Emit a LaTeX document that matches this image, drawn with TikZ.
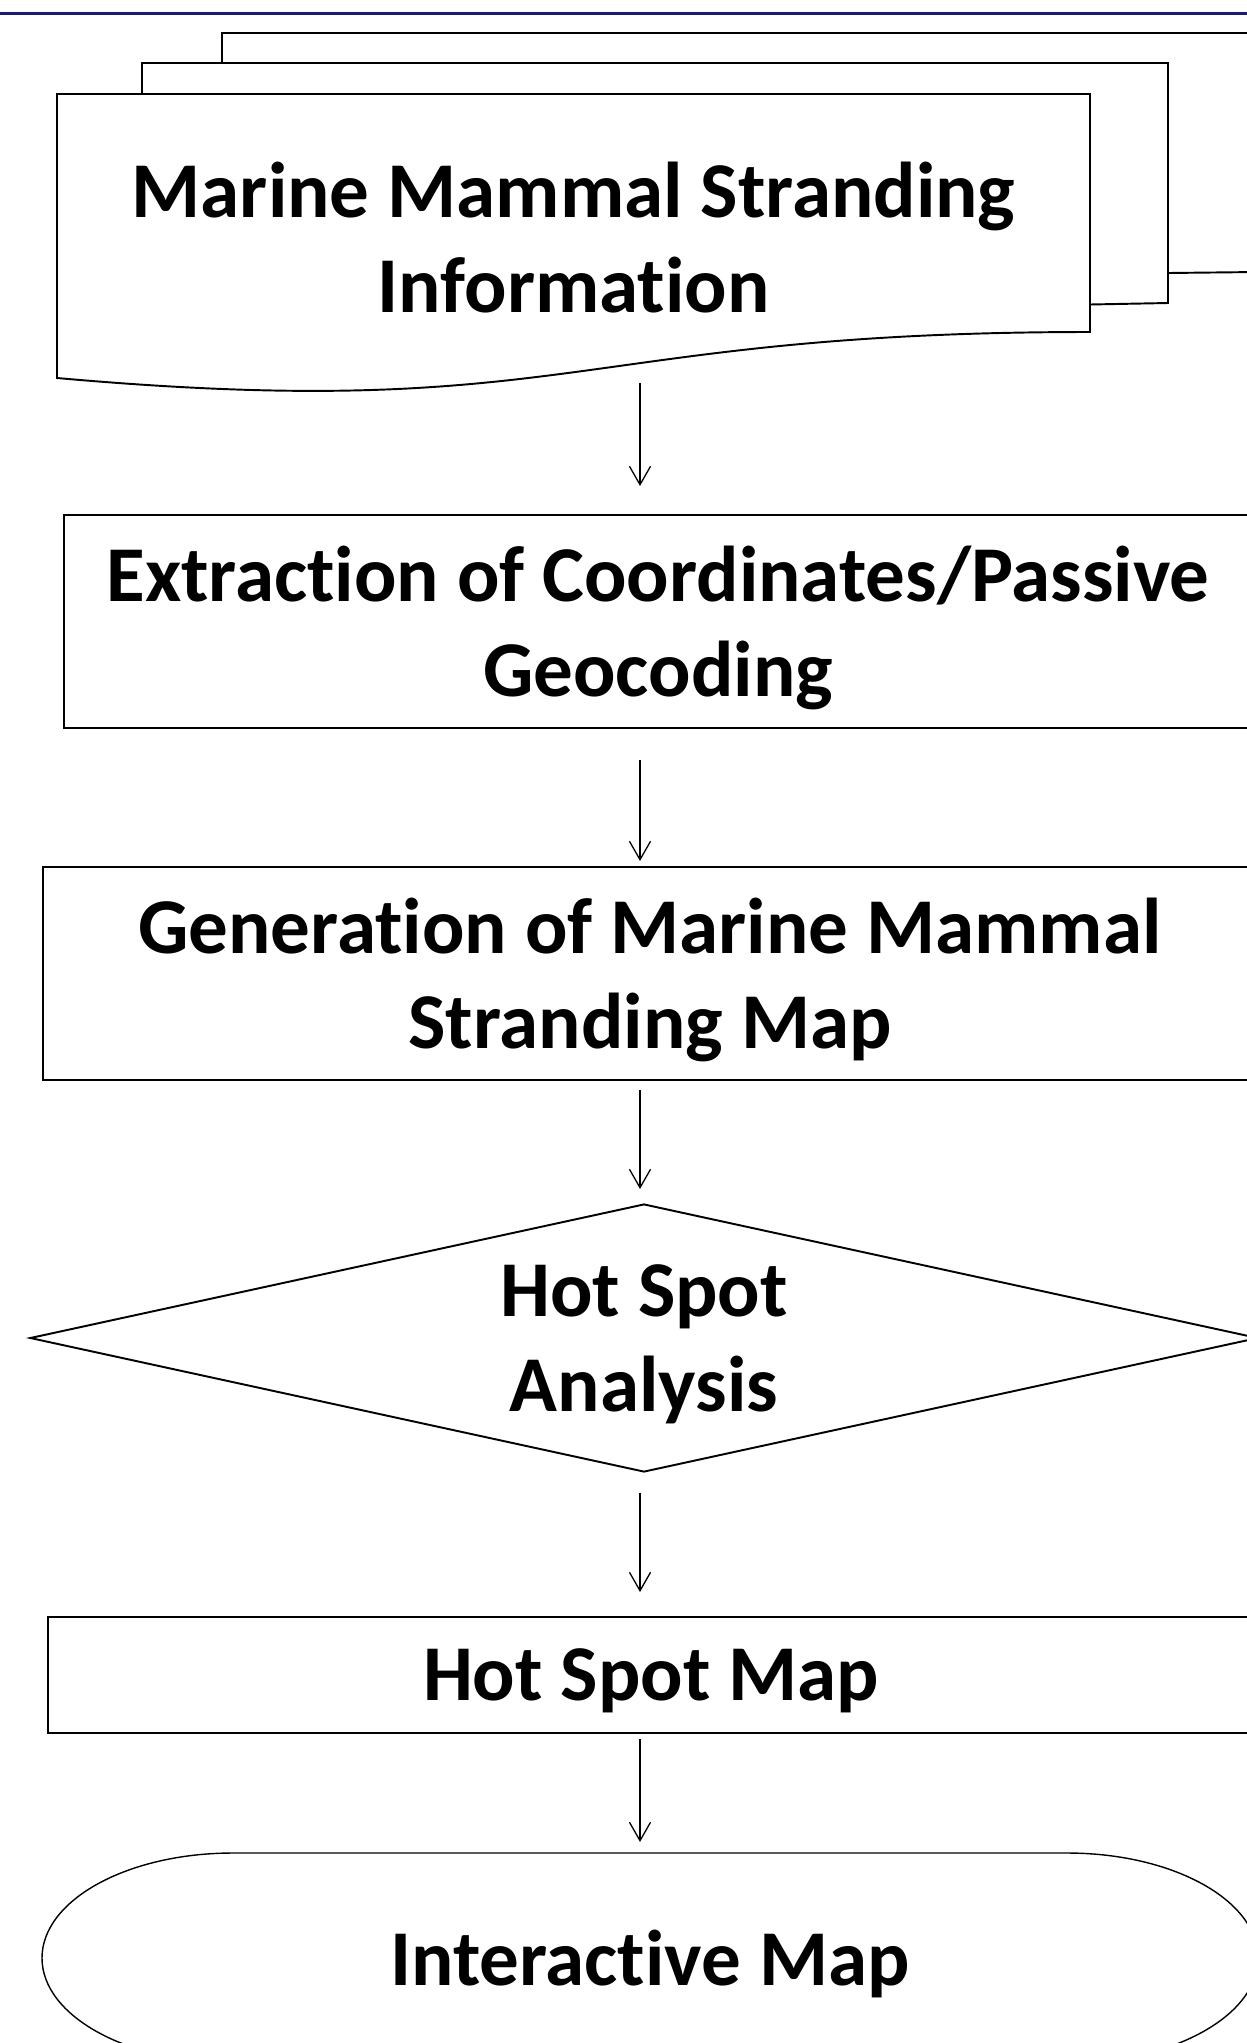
\documentclass[tikz,border=0pt]{standalone}
\usepackage{fontspec}
\setmainfont{Carlito}[Ligatures={NoCommon,NoContextual}]
\usepackage{tikz}
\usetikzlibrary{arrows.meta,shapes.geometric,positioning}

\definecolor{slideblue}{RGB}{25,25,130}

\begin{document}
\begin{tikzpicture}[
  >={Straight Barb[length=10.5pt,width=12pt]},
  box/.style={draw,line width=1.1pt,inner sep=0pt,align=center,text depth=0pt,font=\fontsize{45}{54}\selectfont\bfseries},
  flow/.style={->,line width=0.75pt}]
\useasboundingbox (0,0) rectangle (24.94,-40.86);
\clip (0,0) rectangle (24.94,-40.86);
\draw[slideblue,line width=1.7pt] (0,-0.27) -- (24.94,-0.27);
\coordinate (axis) at (12.8,0);

\draw[line width=1.1pt] (4.44,-1.26) -- (4.44,-0.66) -- (25.14,-0.66) -- (25.14,-5.44) -- (23.36,-5.46);
\draw[line width=1.1pt] (2.84,-1.88) -- (2.84,-1.26) -- (23.36,-1.26) -- (23.36,-6.06) -- (21.8,-6.09);
\draw[line width=1.1pt] (1.14,-1.88) -- (21.8,-1.88) -- (21.8,-6.64) .. controls (11.47,-6.64) and (11.47,-8.48) .. (1.14,-7.56) -- cycle;
\node[box,draw=none] (info) at (11.47,-4.74) {Marine Mammal Stranding\\Information};
\coordinate (docbot) at (12.8,-7.14);

\node[box,minimum width=23.76cm,minimum height=4.26cm] (extract) at (13.16,-12.43) {Extraction of Coordinates/Passive\\Geocoding};
\node[box,minimum width=24.28cm,minimum height=4.26cm] (gen) at (13.0,-19.47) {Generation of Marine Mammal\\Stranding Map};
\node[box,diamond,aspect=4.58,minimum width=24.56cm,minimum height=5.36cm] (hsa) at (12.88,-26.76) {Hot Spot\\Analysis};
\node[box,minimum width=24.12cm,minimum height=2.32cm] (hsmap) at (13.02,-33.5) {Hot Spot Map};

\draw[line width=0.8pt] (4.66,-37.06) -- (21.34,-37.06) arc[start angle=90,end angle=-90,x radius=3.82,y radius=2.1] -- (4.66,-41.26) arc[start angle=270,end angle=90,x radius=3.82,y radius=2.1] -- cycle;
\node[box,draw=none] (imap) at (13.0,-39.16) {Interactive Map};
\coordinate (termtop) at (12.8,-37.06);

\draw[flow,shorten <=0.52cm,shorten >=0.56cm] (docbot) -- (extract.north -| axis);
\draw[flow,shorten <=0.62cm,shorten >=0.1cm] (extract.south -| axis) -- (gen.north -| axis);
\draw[flow,shorten <=0.18cm,shorten >=0.28cm] (gen.south -| axis) -- (hsa.north -| axis);
\draw[flow,shorten <=0.4cm,shorten >=0.48cm] (hsa.south -| axis) -- (hsmap.north -| axis);
\draw[flow,shorten <=0.1cm,shorten >=0.22cm] (hsmap.south -| axis) -- (termtop);
\end{tikzpicture}
\end{document}
